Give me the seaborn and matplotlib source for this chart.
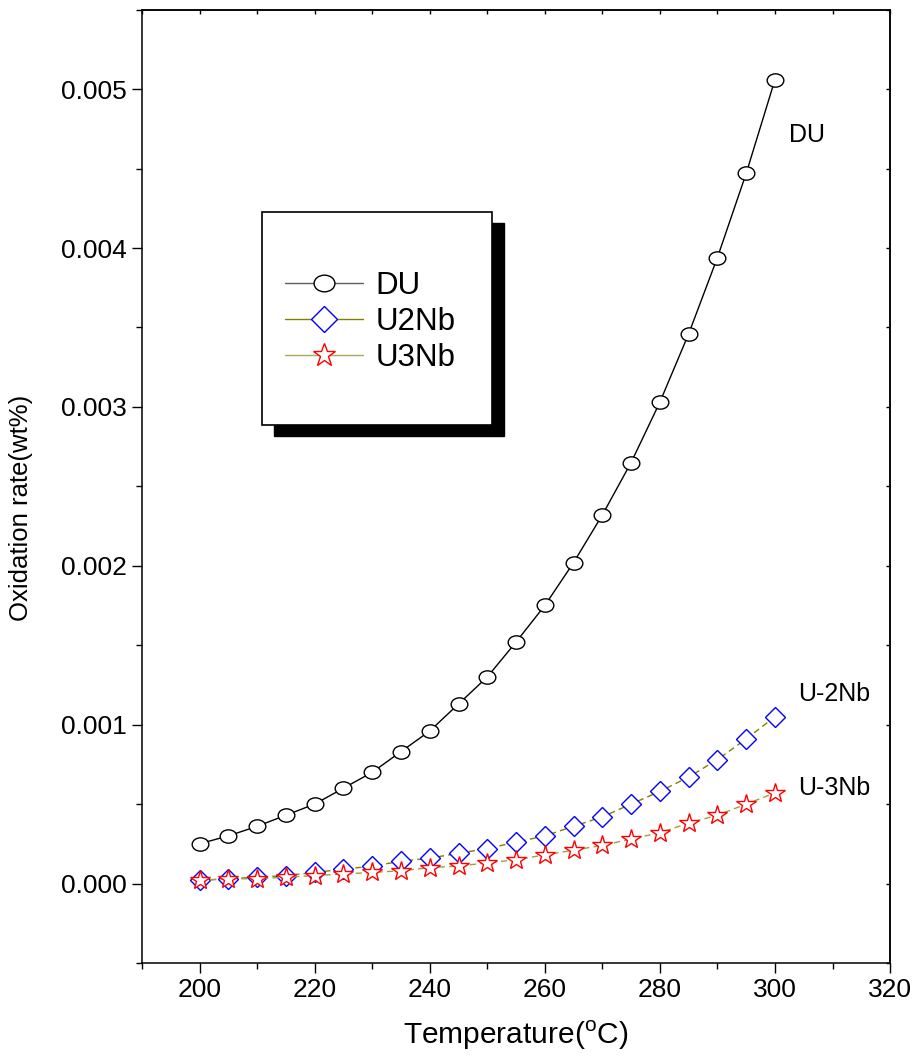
import numpy as np
import matplotlib
matplotlib.use("Agg")
import matplotlib.pyplot as plt
import seaborn as sns
from matplotlib.patches import Rectangle
from matplotlib.path import Path
from matplotlib.transforms import Affine2D
from matplotlib.ticker import MultipleLocator, FormatStrFormatter

# -------------------- Data --------------------
temperature = [200, 205, 210, 215, 220, 225, 230, 235, 240, 245, 250,
               255, 260, 265, 270, 275, 280, 285, 290, 295, 300]
du = [0.00025, 0.00030, 0.00036, 0.00043, 0.00050, 0.00060, 0.00070, 0.00083,
      0.00096, 0.00113, 0.00130, 0.00152, 0.00175, 0.00202, 0.00232, 0.00265,
      0.00303, 0.00346, 0.00394, 0.00447, 0.00506]
u2nb = [0.00002, 0.00003, 0.00004, 0.00005, 0.00007, 0.00009, 0.00011, 0.00014,
        0.00016, 0.00019, 0.00022, 0.00026, 0.00030, 0.00036, 0.00042, 0.00050,
        0.00058, 0.00067, 0.00078, 0.00091, 0.00105]
u3nb = [0.00002, 0.00003, 0.00003, 0.00004, 0.00005, 0.00006, 0.00007, 0.00008,
        0.00010, 0.00011, 0.00013, 0.00015, 0.00018, 0.00021, 0.00024, 0.00028,
        0.00032, 0.00038, 0.00043, 0.00050, 0.00057]

series_labels = ["DU", "U2Nb", "U3Nb"]
curve_labels = ["DU", "U-2Nb", "U-3Nb"]

# -------------------- Style --------------------
sns.set_style("ticks")
plt.rcParams["font.family"] = ["Liberation Sans", "DejaVu Sans"]
plt.rcParams["mathtext.fontset"] = "custom"
plt.rcParams["mathtext.rm"] = "Liberation Sans"
plt.rcParams["axes.linewidth"] = 1.1
for key in ["text.color", "axes.labelcolor", "axes.edgecolor",
            "xtick.color", "ytick.color"]:
    plt.rcParams[key] = "black"

fig = plt.figure(figsize=(9.17, 10.56), dpi=100)
ax = fig.add_axes([0.1549, 0.0881, 0.8157, 0.9027])

ellipse = Path.unit_circle().transformed(Affine2D().scale(1, 0.8))

sns.lineplot(x=temperature, y=du, ax=ax, color="black", lw=1.0,
             marker=ellipse, markersize=12, markerfacecolor="white",
             markeredgecolor="black", markeredgewidth=1.0, label=series_labels[0])
sns.lineplot(x=temperature, y=u2nb, ax=ax, color="#808000", lw=1.0,
             linestyle=(0, (4.5, 3)), marker="D", markersize=10.5,
             markerfacecolor="white", markeredgecolor="blue",
             markeredgewidth=1.0, label=series_labels[1])
sns.lineplot(x=temperature, y=u3nb, ax=ax, color="#a0a040", lw=1.0,
             linestyle=(0, (4.5, 3)), marker="*", markersize=15,
             markerfacecolor="white", markeredgecolor="red",
             markeredgewidth=1.0, label=series_labels[2])

ax.set_xlim(190, 320)
ax.set_ylim(-0.0005, 0.0055)
ax.xaxis.set_major_locator(MultipleLocator(20))
ax.xaxis.set_minor_locator(MultipleLocator(10))
ax.yaxis.set_major_locator(MultipleLocator(0.001))
ax.yaxis.set_minor_locator(MultipleLocator(0.0005))
ax.yaxis.set_major_formatter(FormatStrFormatter("%.3f"))
ax.tick_params(which="major", direction="out", length=7, width=1.0,
               labelsize=19, pad=4)
ax.tick_params(which="minor", direction="out", length=4, width=1.0)

# inward ticks on top and right
secx = ax.secondary_xaxis("top")
secx.xaxis.set_major_locator(MultipleLocator(20))
secx.xaxis.set_minor_locator(MultipleLocator(10))
secx.tick_params(which="both", direction="in", length=3, width=1.0, labeltop=False)
secy = ax.secondary_yaxis("right")
secy.yaxis.set_major_locator(MultipleLocator(0.001))
secy.yaxis.set_minor_locator(MultipleLocator(0.0005))
secy.tick_params(which="both", direction="in", length=3, width=1.0, labelright=False)

ax.set_xlabel("Temperature($^{\\mathrm{o}}$C)", fontsize=21.5, labelpad=12)
ax.set_ylabel("Oxidation rate(wt%)", fontsize=18.5)
ax.yaxis.set_label_coords(-0.146, 0.477)

# curve labels
ax.text(302.5, 0.00471, curve_labels[0], fontsize=18, va="center", ha="left")
ax.text(304.0, 0.00119, curve_labels[1], fontsize=18, va="center", ha="left")
ax.text(304.0, 0.00060, curve_labels[2], fontsize=18, va="center", ha="left")

# -------------------- Legend with box + shadow --------------------
W, H = 917, 1056
box = (262 / W, (H - 425) / H, 230 / W, 213 / H)
ax.add_patch(Rectangle((box[0] + 12 / W, box[1] - 11 / H), box[2], box[3],
                       transform=fig.transFigure, facecolor="black",
                       edgecolor="black", clip_on=False, zorder=4))
ax.add_patch(Rectangle((box[0], box[1]), box[2], box[3],
                       transform=fig.transFigure, facecolor="white",
                       edgecolor="black", lw=1.2, clip_on=False, zorder=4.5))
leg = ax.legend(loc="center left", bbox_to_anchor=(285 / W, (H - 322) / H),
                bbox_transform=fig.transFigure, frameon=False, borderpad=0,
                borderaxespad=0, fontsize=22.5, handlelength=2.5,
                handletextpad=0.4, labelspacing=0.18, numpoints=1)
leg.set_zorder(5)
leg_colors = ["#606060", "#808000", "#a8a860"]
leg_sizes = [15, 13, 17]
for line, c, s in zip(leg.get_lines(), leg_colors, leg_sizes):
    line.set_linestyle("-")
    line.set_color(c)
    line.set_markersize(s)

fig.savefig("out.png", dpi=100)
plt.close(fig)
